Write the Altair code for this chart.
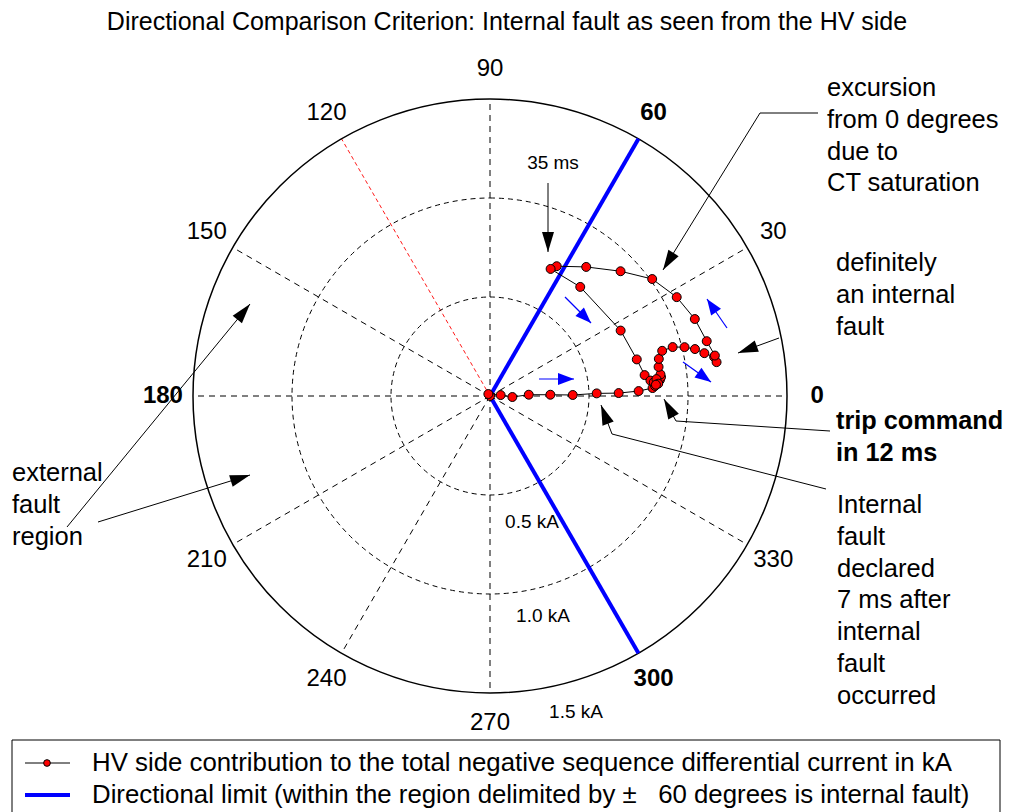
import math
import altair as alt
import pandas as pd

# ---------------- data ----------------
# HV side contribution to negative-sequence differential current: magnitude (kA), angle (deg)
traj_mag = [0.000, 0.013, 0.054, 0.113, 0.196, 0.305, 0.418, 0.539, 0.650, 0.751, 0.822,
            0.835, 0.851, 0.862, 0.869, 0.868, 0.864, 0.873, 0.899, 0.955, 1.013, 1.062,
            1.104, 1.149, 1.157, 1.154, 1.129, 1.105, 1.067, 1.010, 0.912, 0.813, 0.737,
            0.711, 0.715, 0.738, 0.764, 0.788, 0.814, 0.830, 0.845, 0.852, 0.840]
traj_ang = [0.0, 130.0, 5.0, -2.6, 1.9, 1.2, 0.7, 1.4, 1.3, 1.9, 2.8,
            3.5, 4.4, 5.4, 6.3, 7.2, 9.8, 12.4, 14.7, 15.0, 14.1, 12.9,
            11.3, 9.9, 8.5, 10.2, 14.2, 20.6, 27.9, 35.8, 43.7, 53.3, 62.8,
            64.5, 50.4, 26.6, 14.0, 7.7, 5.5, 4.8, 5.8, 4.2, 3.9]

spoke_angles = [0, 30, 60, 90, 120, 150, 180, 210, 240, 270, 300, 330]
red_spoke = 120
ring_radii = [0.5, 1.0, 1.5]
ring_labels = ["0.5 kA", "1.0 kA", "1.5 kA"]
limit_angles = [60, 300]
r_max = 1.5
angle_labels = ["0", "30", "60", "90", "120", "150", "180", "210", "240", "270", "300", "330"]
bold_angles = [0, 60, 180, 300]

title_text = "Directional Comparison Criterion: Internal fault as seen from the HV side"
legend_texts = ["HV side contribution to the total negative sequence differential current in kA",
                "Directional limit (within the region delimited by \u00b1\u00a0\u00a0\u00a060 degrees is internal fault)"]

# ---------------- layout (page pixels -> data units) ----------------
W, H = 999, 806
CX, CY, PX_PER_KA = 490, 396, 198.0
xmin = -(CX - 8) / PX_PER_KA
xmax = xmin + W / PX_PER_KA
ymax = (CY - 8) / PX_PER_KA
ymin = ymax - H / PX_PER_KA
xs = alt.Scale(domain=[xmin, xmax], nice=False, zero=False)
ys = alt.Scale(domain=[ymin, ymax], nice=False, zero=False)
FONT = "Liberation Sans"
F_BIG = 25.5


def dx(px):
    return (px - CX) / PX_PER_KA


def dy(py):
    return (CY - py) / PX_PER_KA


def X(f):
    return alt.X(f, type="quantitative", scale=xs, axis=None)


def Y(f):
    return alt.Y(f, type="quantitative", scale=ys, axis=None)


# ---------------- tables ----------------
traj = pd.DataFrame({"i": range(len(traj_mag)), "r": traj_mag, "a": traj_ang})
spokes = pd.DataFrame({"a": spoke_angles})
rings = pd.DataFrame({"r": ring_radii, "solid": [r == r_max for r in ring_radii]})
limits = pd.DataFrame({"a": limit_angles})
alabels = pd.DataFrame({"a": spoke_angles, "t": angle_labels,
                        "b": [a in bold_angles for a in spoke_angles]})

polar_xy = dict(x="datum.r*cos(datum.a*PI/180)", y="datum.r*sin(datum.a*PI/180)")

grid_spokes = alt.Chart(spokes).transform_filter(f"datum.a != {red_spoke}").transform_calculate(
    x0="0", y0="0", x1=f"{r_max}*cos(datum.a*PI/180)", y1=f"{r_max}*sin(datum.a*PI/180)"
).mark_rule(color="black", strokeWidth=1, strokeDash=[6, 5]).encode(
    x=X("x0"), y=Y("y0"), x2="x1:Q", y2="y1:Q")

red_line = alt.Chart(spokes).transform_filter(f"datum.a == {red_spoke}").transform_calculate(
    x0="0", y0="0", x1=f"{r_max}*cos(datum.a*PI/180)", y1=f"{r_max}*sin(datum.a*PI/180)"
).mark_rule(color="#ff0000", strokeWidth=0.9, strokeDash=[4, 3]).encode(
    x=X("x0"), y=Y("y0"), x2="x1:Q", y2="y1:Q")

rscale = alt.Scale(type="linear", domain=[0, r_max], range=[0, r_max * PX_PER_KA],
                   zero=True, nice=False)
inner_rings = alt.Chart(rings).transform_filter("!datum.solid").transform_calculate(
    cx="0", cy="0").mark_arc(filled=False, stroke="black", strokeWidth=1, strokeDash=[5, 4],
                             theta=0, theta2=6.2832).encode(
    x=X("cx"), y=Y("cy"), radius=alt.Radius("r:Q", scale=rscale, stack=None))
outer_ring = alt.Chart(rings).transform_filter("datum.solid").transform_calculate(
    cx="0", cy="0").mark_arc(filled=False, stroke="black", strokeWidth=1.5,
                             theta=0, theta2=6.2832).encode(
    x=X("cx"), y=Y("cy"), radius=alt.Radius("r:Q", scale=rscale, stack=None))

limit_lines = alt.Chart(limits).transform_calculate(
    x0="0", y0="0", x1=f"{r_max}*cos(datum.a*PI/180)", y1=f"{r_max}*sin(datum.a*PI/180)"
).mark_rule(color="#0000ff", strokeWidth=4).encode(
    x=X("x0"), y=Y("y0"), x2="x1:Q", y2="y1:Q")

traj_line = alt.Chart(traj).transform_calculate(**polar_xy).mark_line(
    color="black", strokeWidth=1).encode(x=X("x"), y=Y("y"), order="i:Q")
traj_pts = alt.Chart(traj).transform_calculate(**polar_xy).mark_circle(
    color="#ff0000", stroke="black", strokeWidth=1, size=80, opacity=1).encode(
    x=X("x"), y=Y("y"))

LR = 1.652
alab_norm = alt.Chart(alabels).transform_filter("!datum.b").transform_calculate(
    x=f"{LR}*cos(datum.a*PI/180)", y=f"{LR}*sin(datum.a*PI/180)").mark_text(
    font=FONT, fontSize=24, color="black", align="center", baseline="middle").encode(
    x=X("x"), y=Y("y"), text="t:N")
alab_bold = alt.Chart(alabels).transform_filter("datum.b").transform_calculate(
    x=f"{LR}*cos(datum.a*PI/180)", y=f"{LR}*sin(datum.a*PI/180)").mark_text(
    font=FONT, fontSize=24, fontWeight="bold", color="black", align="center",
    baseline="middle").encode(x=X("x"), y=Y("y"), text="t:N")

# ---------------- annotations ----------------
small_text = pd.DataFrame({
    "t": ring_labels + ["35 ms"],
    "x": [dx(532), dx(543), dx(576), dx(553)],
    "y": [dy(522), dy(616), dy(712), dy(163)],
})
small_layer = alt.Chart(small_text).mark_text(
    font=FONT, fontSize=19, align="center", baseline="middle", color="black").encode(
    x=X("x"), y=Y("y"), text="t:N")

LH = 31.8
rows = []
for x0, y0, lines, bold in [
    (827, 88, ["excursion", "from 0 degrees", "due to", "CT saturation"], False),
    (836, 263, ["definitely", "an internal", "fault"], False),
    (836, 421, ["trip command", "in 12 ms"], True),
    (837, 505, ["Internal", "fault", "declared", "7 ms after", "internal", "fault", "occurred"], False),
    (12, 473, ["external", "fault", "region"], False),
]:
    for k, s in enumerate(lines):
        rows.append({"t": s, "x": dx(x0), "y": dy(y0 + k * LH), "b": bold})
ann = pd.DataFrame(rows)
ann_norm = alt.Chart(ann).transform_filter("!datum.b").mark_text(
    font=FONT, fontSize=F_BIG, align="left", baseline="middle", color="black").encode(
    x=X("x"), y=Y("y"), text="t:N")
ann_bold = alt.Chart(ann).transform_filter("datum.b").mark_text(
    font=FONT, fontSize=25.3, fontWeight="bold", align="left", baseline="middle",
    color="black").encode(x=X("x"), y=Y("y"), text="t:N")

black_arrows = [((548, 183), (548, 252)), ((760, 113), (663, 270)), ((779, 338), (738, 353)),
                ((676, 421), (664, 399)), ((612, 434), (601, 405)), ((67, 527), (250, 304)),
                ((98, 522), (250, 475))]
black_leaders = [((818, 113), (760, 113)), ((830, 431), (676, 421)), ((826, 489), (612, 434))]
blue_arrows = [((539, 379), (574, 379)), ((565, 297), (591, 323)), ((727, 328), (707, 299)),
               ((683, 362), (711, 382))]


def seg_df(segs):
    return pd.DataFrame([{"x": dx(a[0]), "y": dy(a[1]), "x2": dx(b[0]), "y2": dy(b[1])}
                         for a, b in segs])


def head_df(segs):
    out = []
    for (x0, y0), (x1, y1) in segs:
        ang = math.degrees(math.atan2(x1 - x0, -(y1 - y0))) % 360
        out.append({"x": dx(x1), "y": dy(y1), "ang": ang})
    return pd.DataFrame(out)


blk_lines = alt.Chart(seg_df(black_arrows + black_leaders)).mark_rule(
    color="black", strokeWidth=1).encode(x=X("x"), y=Y("y"), x2="x2:Q", y2="y2:Q")
blk_heads = alt.Chart(head_df(black_arrows)).mark_point(
    shape="M0,0L-0.6,2L0.6,2Z", size=400, filled=True, color="black", opacity=1).encode(
    x=X("x"), y=Y("y"), angle=alt.Angle("ang:Q", scale=None))
blu_lines = alt.Chart(seg_df(blue_arrows)).mark_rule(
    color="#0000ff", strokeWidth=1.2).encode(x=X("x"), y=Y("y"), x2="x2:Q", y2="y2:Q")
blu_heads = alt.Chart(head_df(blue_arrows)).mark_point(
    shape="M0,0L-0.75,2L0.75,2Z", size=256, filled=True, color="#0000ff", opacity=1).encode(
    x=X("x"), y=Y("y"), angle=alt.Angle("ang:Q", scale=None))

# ---------------- title and legend ----------------
title_layer = alt.Chart(pd.DataFrame({"t": [title_text], "x": [dx(507)], "y": [dy(22)]})).mark_text(
    font=FONT, fontSize=25, align="center", baseline="middle", color="black").encode(
    x=X("x"), y=Y("y"), text="t:N")

leg_box = alt.Chart(pd.DataFrame({"x": [dx(12)], "y": [dy(740)], "x2": [dx(1000)], "y2": [dy(840)]})).mark_rect(
    fill="white", fillOpacity=0, stroke="black", strokeWidth=1).encode(
    x=X("x"), y=Y("y"), x2="x2:Q", y2="y2:Q")
leg_lines = alt.Chart(pd.DataFrame({"x": [dx(25)], "x2": [dx(70)], "y": [dy(763)]})).mark_rule(
    color="black", strokeWidth=1).encode(x=X("x"), x2="x2:Q", y=Y("y"))
leg_lines2 = alt.Chart(pd.DataFrame({"x": [dx(25)], "x2": [dx(70)], "y": [dy(795)]})).mark_rule(
    color="#0000ff", strokeWidth=4).encode(x=X("x"), x2="x2:Q", y=Y("y"))
leg_pt = alt.Chart(pd.DataFrame({"x": [dx(47)], "y": [dy(763)]})).mark_circle(
    color="#ff0000", stroke="black", strokeWidth=1, size=45, opacity=1).encode(x=X("x"), y=Y("y"))
leg_text = alt.Chart(pd.DataFrame({"t": legend_texts, "x": [dx(92), dx(92)], "y": [dy(763), dy(795)]})).mark_text(
    font=FONT, fontSize=25.8, align="left", baseline="middle", color="black").encode(
    x=X("x"), y=Y("y"), text="t:N")

chart = alt.layer(
    grid_spokes, red_line, inner_rings, outer_ring, limit_lines,
    blu_lines, blu_heads,
    traj_line, traj_pts,
    alab_norm, alab_bold, small_layer, ann_norm, ann_bold,
    blk_lines, blk_heads, title_layer,
    leg_box, leg_lines, leg_lines2, leg_pt, leg_text,
).properties(
    width=W, height=H, padding=0, autosize=alt.AutoSizeParams(type="none"),
    background="white",
).configure_view(stroke=None)

chart.save("out.html", embed_options={"renderer": "svg", "actions": False})
